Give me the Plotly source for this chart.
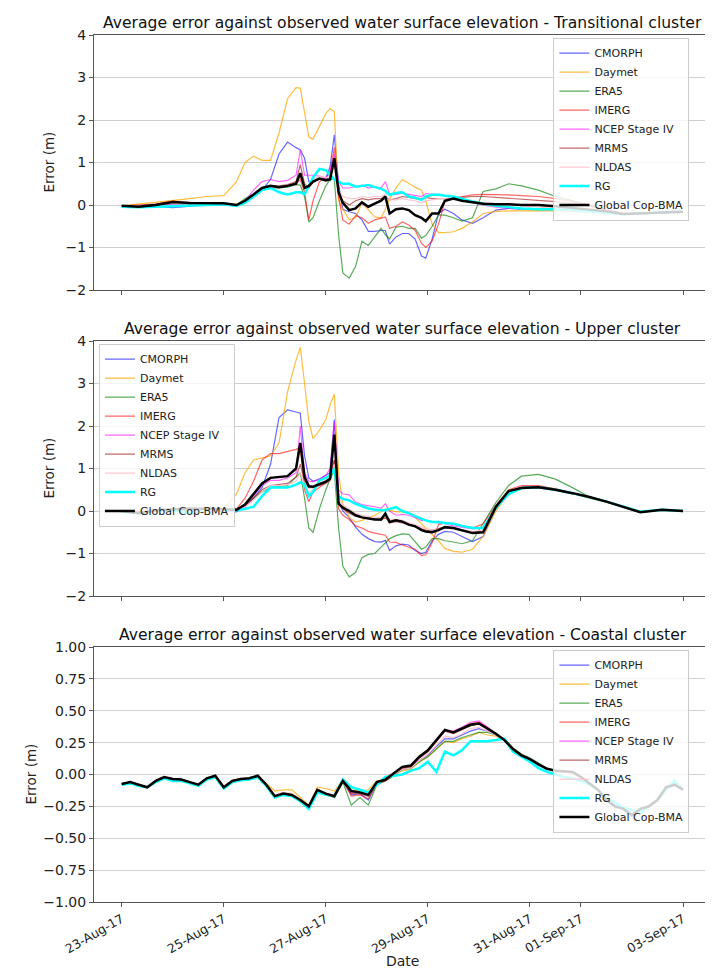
import pandas as pd
import plotly.graph_objects as go
from plotly.subplots import make_subplots

START = pd.Timestamp("2017-08-23 00:00")

# sample times (hours after 23-Aug-17 00:00)
hours_tu = [0, 8, 16, 24, 32, 40, 48, 54, 58, 62,
            66, 70, 74, 78, 82, 84, 86, 88, 90, 93,
            96, 98, 100, 102, 104, 107, 110, 113, 116, 119,
            122, 124, 126, 129, 132, 135, 138, 141, 143, 146,
            149, 152, 156, 160, 165, 170, 176, 182, 188, 196,
            204, 212, 220, 228, 236, 244, 254, 264]
hours_coastal = list(range(0, 265, 4))

names = ["CMORPH", "Daymet", "ERA5", "IMERG", "NCEP Stage IV", "MRMS", "NLDAS", "RG", "Global Cop-BMA"]

# ---- Transitional cluster ----
trans_cmorph = [-0.02, -0.03, -0.03, -0.06, -0.03, 0.0, 0.0, -0.02, 0.05, 0.25,
                0.35, 0.6, 1.2, 1.48, 1.35, 1.3, 1.1, 0.55, 0.55, 0.62,
                0.63, 0.9, 1.65, 0.5, -0.1, -0.16, -0.2, -0.35, -0.62, -0.62,
                -0.6, -0.6, -0.92, -0.75, -0.67, -0.67, -0.8, -1.2, -1.25, -0.8,
                -0.2, -0.1, -0.2, -0.35, -0.43, -0.3, -0.12, -0.08, -0.1, -0.1,
                -0.12, -0.14, -0.15, -0.18, -0.22, -0.2, -0.17, -0.16]
trans_daymet = [-0.02, 0.02, 0.07, 0.1, 0.15, 0.2, 0.22, 0.55, 1.0, 1.15,
                1.05, 1.05, 1.7, 2.5, 2.76, 2.75, 2.2, 1.6, 1.55, 1.85,
                2.15, 2.27, 2.2, 0.1, -0.1, -0.35, -0.3, 0.05, -0.12, -0.28,
                -0.3, -0.1, 0.15, 0.4, 0.6, 0.5, 0.42, 0.35, 0.1, -0.45,
                -0.65, -0.65, -0.63, -0.55, -0.4, -0.2, -0.15, -0.14, -0.13, -0.13,
                -0.14, -0.15, -0.16, -0.18, -0.22, -0.2, -0.17, -0.16]
trans_era5 = [-0.02, -0.02, 0.0, 0.03, 0.03, 0.02, 0.02, 0.0, 0.15, 0.25,
              0.35, 0.4, 0.4, 0.42, 0.48, 0.47, 0.2, -0.4, -0.3, 0.1,
              0.45, 0.6, 0.62, -0.7, -1.6, -1.72, -1.45, -0.85, -0.95, -0.75,
              -0.55, -0.7, -0.8, -0.52, -0.5, -0.55, -0.55, -0.78, -0.72, -0.5,
              -0.24, -0.24, -0.3, -0.38, -0.3, 0.32, 0.38, 0.5, 0.45, 0.35,
              0.2, 0.1, 0.0, -0.12, -0.2, -0.2, -0.17, -0.16]
trans_imerg = [-0.02, 0.0, 0.02, 0.1, 0.05, 0.03, 0.03, 0.0, 0.1, 0.25,
               0.35, 0.42, 0.42, 0.45, 0.5, 0.6, 0.3, -0.35, 0.1, 0.55,
               0.65, 0.75, 1.35, 0.2, -0.35, -0.45, -0.25, -0.3, -0.43, -0.35,
               -0.3, -0.28, -0.55, -0.5, -0.4, -0.47, -0.6, -0.9, -1.0, -0.85,
               -0.45, 0.08, 0.16, 0.2, 0.24, 0.25, 0.25, 0.24, 0.22, 0.2,
               0.15, 0.08, 0.0, -0.12, -0.2, -0.2, -0.17, -0.16]
trans_ncep = [-0.02, -0.02, 0.0, 0.02, 0.02, 0.02, 0.02, 0.0, 0.1, 0.35,
              0.55, 0.6, 0.55, 0.58, 0.7, 1.3, 0.7, 0.7, 0.7, 0.68,
              0.63, 0.8, 1.2, 0.55, 0.4, 0.4, 0.43, 0.47, 0.4, 0.43,
              0.4, 0.55, 0.25, 0.25, 0.28, 0.25, 0.22, 0.2, 0.27, 0.25,
              0.25, 0.22, 0.2, 0.15, 0.06, 0.0, -0.05, -0.08, -0.1, -0.1,
              -0.1, -0.12, -0.15, -0.18, -0.22, -0.2, -0.17, -0.16]
trans_mrms = [-0.02, -0.02, 0.02, 0.08, 0.04, 0.03, 0.03, 0.0, 0.1, 0.25,
              0.38, 0.45, 0.45, 0.48, 0.55, 0.95, 0.5, 0.4, 0.55, 0.62,
              0.6, 0.65, 1.0, 0.3, 0.1, 0.0, 0.1, 0.15, 0.12, 0.15,
              0.15, 0.2, 0.12, 0.15, 0.2, 0.18, 0.15, 0.15, 0.18, 0.15,
              0.15, 0.15, 0.15, 0.18, 0.2, 0.2, 0.18, 0.17, 0.15, 0.12,
              0.08, 0.03, -0.02, -0.12, -0.2, -0.2, -0.17, -0.16]
trans_nldas = [-0.02, -0.02, 0.0, 0.05, 0.03, 0.02, 0.02, 0.0, 0.08, 0.22,
               0.35, 0.42, 0.42, 0.45, 0.5, 0.7, 0.4, 0.45, 0.6, 0.68,
               0.65, 0.65, 0.9, 0.35, 0.2, 0.15, 0.15, 0.2, 0.18, 0.2,
               0.2, 0.25, 0.12, 0.12, 0.15, 0.12, 0.1, 0.05, 0.1, 0.12,
               0.15, 0.15, 0.12, 0.1, 0.08, 0.05, 0.02, 0.0, -0.02, -0.05,
               -0.07, -0.1, -0.12, -0.16, -0.21, -0.2, -0.17, -0.16]
trans_rg = [-0.04, -0.05, -0.04, -0.03, -0.02, 0.0, 0.02, -0.02, 0.05, 0.2,
            0.35, 0.4, 0.3, 0.25, 0.3, 0.3, 0.25, 0.45, 0.65, 0.85,
            0.82, 0.7, 0.6, 0.55, 0.5, 0.5, 0.43, 0.45, 0.47, 0.42,
            0.38, 0.33, 0.24, 0.28, 0.3, 0.2, 0.17, 0.12, 0.2, 0.24,
            0.24, 0.22, 0.2, 0.15, 0.08, 0.03, -0.02, -0.05, -0.08, -0.1,
            -0.1, -0.12, -0.15, -0.18, -0.22, -0.2, -0.17, -0.16]
trans_bma = [-0.02, -0.04, 0.0, 0.07, 0.05, 0.04, 0.04, 0.0, 0.1, 0.25,
             0.4, 0.45, 0.42, 0.45, 0.5, 0.75, 0.4, 0.45, 0.55, 0.62,
             0.58, 0.6, 1.1, 0.3, 0.05, -0.12, -0.08, 0.06, -0.04, 0.03,
             0.1, 0.2, -0.2, -0.1, -0.08, -0.12, -0.24, -0.3, -0.38, -0.2,
             -0.2, 0.1, 0.15, 0.1, 0.06, 0.03, 0.02, 0.02, 0.0, 0.0,
             -0.03, -0.07, -0.1, -0.15, -0.21, -0.2, -0.17, -0.16]

# ---- Upper cluster ----
upper_cmorph = [0.0, -0.03, 0.02, 0.02, 0.0, 0.02, 0.0, -0.02, 0.1, 0.3,
                0.55, 1.1, 2.2, 2.38, 2.33, 2.3, 1.3, 0.78, 0.7, 0.75,
                0.84, 0.9, 2.15, 0.25, 0.0, -0.15, -0.38, -0.55, -0.65, -0.72,
                -0.73, -0.69, -0.93, -0.82, -0.78, -0.8, -0.93, -1.0, -0.97, -0.7,
                -0.55, -0.48, -0.5, -0.6, -0.72, -0.6, 0.05, 0.42, 0.55, 0.57,
                0.5, 0.42, 0.32, 0.21, 0.1, -0.03, 0.03, 0.0]
upper_daymet = [0.0, -0.03, 0.03, 0.05, 0.05, 0.05, 0.05, 0.4, 0.9, 1.2,
                1.25, 1.3, 1.6, 2.8, 3.55, 3.85, 3.0, 2.1, 1.7, 1.9,
                2.15, 2.5, 2.75, 0.9, 0.15, -0.15, -0.26, -0.22, -0.15, -0.1,
                -0.02, 0.05, 0.02, -0.02, -0.02, -0.05, -0.15, -0.3, -0.38, -0.55,
                -0.7, -0.88, -0.95, -0.97, -0.9, -0.6, 0.0, 0.4, 0.53, 0.57,
                0.52, 0.42, 0.3, 0.2, 0.1, -0.03, 0.03, 0.0]
upper_era5 = [0.0, -0.03, 0.02, 0.03, 0.02, 0.03, 0.02, 0.02, 0.15, 0.3,
              0.45, 0.55, 0.58, 0.6, 0.8, 0.9, 0.3, -0.4, -0.5, 0.05,
              0.5, 0.75, 0.95, -0.4, -1.3, -1.55, -1.45, -1.1, -1.02, -1.0,
              -0.85, -0.75, -0.65, -0.58, -0.54, -0.55, -0.73, -0.9, -0.85, -0.65,
              -0.65, -0.7, -0.73, -0.77, -0.7, -0.3, 0.2, 0.6, 0.82, 0.86,
              0.75, 0.55, 0.33, 0.22, 0.1, -0.02, 0.03, 0.0]
upper_imerg = [0.0, -0.02, 0.03, 0.05, 0.05, 0.05, 0.03, 0.05, 0.3, 0.7,
               1.2, 1.35, 1.35, 1.4, 1.45, 1.5, 0.5, 0.22, 0.45, 0.55,
               0.67, 0.8, 1.2, 0.06, -0.1, -0.2, -0.35, -0.4, -0.48, -0.52,
               -0.55, -0.57, -0.73, -0.74, -0.8, -0.85, -0.9, -1.05, -1.03, -0.75,
               -0.32, -0.28, -0.3, -0.34, -0.4, -0.3, 0.13, 0.5, 0.6, 0.6,
               0.52, 0.42, 0.33, 0.22, 0.1, -0.03, 0.03, 0.0]
upper_ncep = [0.0, -0.03, 0.02, 0.04, 0.05, 0.05, 0.03, 0.03, 0.1, 0.35,
              0.6, 0.72, 0.72, 0.78, 0.9, 2.0, 0.9, 0.7, 0.69, 0.75,
              0.84, 1.0, 2.1, 0.5, 0.4, 0.38, 0.21, 0.15, 0.13, 0.1,
              0.06, 0.17, 0.0, -0.1, -0.08, -0.1, -0.15, -0.22, -0.22, -0.26,
              -0.28, -0.3, -0.35, -0.38, -0.42, -0.38, 0.08, 0.45, 0.55, 0.57,
              0.5, 0.42, 0.33, 0.22, 0.1, -0.03, 0.03, 0.0]
upper_mrms = [0.0, -0.04, 0.02, 0.04, 0.06, 0.05, 0.03, 0.03, 0.12, 0.3,
              0.5, 0.6, 0.62, 0.65, 0.8, 1.1, 0.7, 0.55, 0.55, 0.6,
              0.65, 0.72, 1.2, 0.2, 0.05, -0.05, -0.12, -0.15, -0.18, -0.2,
              -0.22, -0.15, -0.28, -0.25, -0.28, -0.32, -0.35, -0.42, -0.45, -0.45,
              -0.42, -0.38, -0.4, -0.45, -0.5, -0.5, 0.08, 0.45, 0.56, 0.58,
              0.51, 0.42, 0.33, 0.22, 0.1, -0.03, 0.03, 0.0]
upper_nldas = [0.0, -0.04, 0.02, 0.03, 0.03, 0.04, 0.03, 0.03, 0.1, 0.25,
               0.45, 0.6, 0.6, 0.62, 0.7, 0.9, 0.6, 0.45, 0.5, 0.65,
               0.72, 0.8, 1.1, 0.3, 0.15, 0.05, -0.05, -0.1, -0.12, -0.15,
               -0.15, -0.1, -0.2, -0.2, -0.22, -0.28, -0.32, -0.38, -0.42, -0.45,
               -0.42, -0.4, -0.42, -0.45, -0.48, -0.45, 0.08, 0.42, 0.54, 0.56,
               0.5, 0.42, 0.33, 0.22, 0.1, -0.03, 0.03, 0.0]
upper_rg = [-0.02, -0.06, 0.0, 0.02, -0.06, 0.03, 0.02, 0.02, 0.05, 0.1,
            0.35, 0.55, 0.55, 0.55, 0.62, 0.68, 0.62, 0.35, 0.45, 0.72,
            0.78, 0.84, 1.0, 0.35, 0.28, 0.25, 0.17, 0.12, 0.06, 0.03,
            0.02, 0.02, 0.05, 0.09, 0.0, -0.05, -0.12, -0.18, -0.22, -0.26,
            -0.26, -0.28, -0.3, -0.35, -0.4, -0.4, 0.08, 0.4, 0.54, 0.56,
            0.5, 0.42, 0.32, 0.22, 0.1, -0.02, 0.03, 0.0]
upper_bma = [0.0, -0.05, 0.02, 0.04, 0.06, 0.05, 0.03, 0.03, 0.15, 0.4,
             0.65, 0.78, 0.8, 0.82, 1.0, 1.6, 0.8, 0.58, 0.57, 0.63,
             0.69, 0.76, 1.8, 0.17, 0.08, 0.0, -0.1, -0.15, -0.18, -0.2,
             -0.2, -0.06, -0.26, -0.22, -0.25, -0.32, -0.36, -0.45, -0.48, -0.5,
             -0.45, -0.38, -0.4, -0.45, -0.52, -0.5, 0.1, 0.47, 0.54, 0.56,
             0.5, 0.42, 0.33, 0.22, 0.1, -0.03, 0.03, 0.0]

# ---- Coastal cluster ----
coast_cmorph = [-0.074, -0.06, -0.08, -0.1, -0.05, -0.02, -0.035, -0.04, -0.06, -0.08,
                -0.03, -0.01, -0.1, -0.05, -0.035, -0.03, -0.01, -0.08, -0.17, -0.15,
                -0.16, -0.2, -0.26, -0.13, -0.16, -0.17, -0.05, -0.16, -0.15, -0.2,
                -0.07, -0.05, 0.0, 0.04, 0.05, 0.11, 0.15, 0.22, 0.28, 0.28,
                0.31, 0.34, 0.36, 0.34, 0.31, 0.27, 0.2, 0.15, 0.12, 0.08,
                0.045, 0.03, 0.025, 0.02, -0.02, -0.07, -0.12, -0.2, -0.25, -0.27,
                -0.32, -0.27, -0.25, -0.2, -0.1, -0.08, -0.12]
coast_daymet = [-0.07, -0.06, -0.08, -0.1, -0.05, -0.02, -0.035, -0.04, -0.06, -0.08,
                -0.03, -0.01, -0.1, -0.05, -0.035, -0.03, -0.01, -0.07, -0.13, -0.12,
                -0.12, -0.18, -0.24, -0.1, -0.11, -0.13, -0.04, -0.12, -0.13, -0.12,
                -0.05, -0.04, 0.0, 0.03, 0.04, 0.1, 0.14, 0.2, 0.26, 0.25,
                0.28, 0.3, 0.33, 0.31, 0.3, 0.27, 0.2, 0.15, 0.12, 0.08,
                0.045, 0.03, 0.02, 0.01, -0.03, -0.08, -0.13, -0.2, -0.25, -0.27,
                -0.31, -0.27, -0.24, -0.19, -0.1, -0.08, -0.12]
coast_era5 = [-0.074, -0.06, -0.08, -0.1, -0.05, -0.02, -0.035, -0.04, -0.06, -0.08,
              -0.03, -0.01, -0.1, -0.05, -0.035, -0.03, -0.01, -0.08, -0.17, -0.15,
              -0.16, -0.2, -0.26, -0.13, -0.16, -0.18, -0.06, -0.24, -0.18, -0.24,
              -0.08, -0.05, -0.01, 0.04, 0.05, 0.1, 0.14, 0.2, 0.26, 0.26,
              0.29, 0.31, 0.33, 0.33, 0.31, 0.28, 0.21, 0.16, 0.13, 0.09,
              0.05, 0.03, 0.025, 0.02, -0.02, -0.07, -0.12, -0.2, -0.25, -0.27,
              -0.32, -0.27, -0.25, -0.2, -0.1, -0.08, -0.12]
coast_imerg = [-0.074, -0.06, -0.08, -0.1, -0.05, -0.02, -0.035, -0.04, -0.06, -0.08,
               -0.03, -0.01, -0.1, -0.05, -0.035, -0.03, -0.01, -0.08, -0.17, -0.15,
               -0.16, -0.2, -0.25, -0.12, -0.15, -0.17, -0.05, -0.17, -0.16, -0.19,
               -0.07, -0.05, 0.0, 0.05, 0.06, 0.13, 0.18, 0.26, 0.34, 0.33,
               0.36, 0.4, 0.41, 0.37, 0.32, 0.27, 0.2, 0.15, 0.12, 0.08,
               0.045, 0.03, 0.025, 0.02, -0.02, -0.07, -0.12, -0.2, -0.25, -0.27,
               -0.32, -0.27, -0.25, -0.2, -0.1, -0.08, -0.12]
coast_ncep = [-0.074, -0.06, -0.08, -0.1, -0.05, -0.02, -0.035, -0.04, -0.06, -0.08,
              -0.03, -0.01, -0.1, -0.05, -0.035, -0.03, -0.01, -0.08, -0.17, -0.15,
              -0.16, -0.2, -0.25, -0.12, -0.15, -0.16, -0.05, -0.14, -0.14, -0.16,
              -0.06, -0.04, 0.01, 0.06, 0.07, 0.14, 0.19, 0.27, 0.35, 0.34,
              0.37, 0.41, 0.42, 0.37, 0.32, 0.27, 0.2, 0.15, 0.12, 0.08,
              0.045, 0.03, 0.025, 0.02, -0.02, -0.07, -0.12, -0.2, -0.25, -0.27,
              -0.32, -0.27, -0.25, -0.2, -0.1, -0.08, -0.12]
coast_mrms = [-0.074, -0.06, -0.08, -0.1, -0.05, -0.02, -0.035, -0.04, -0.06, -0.08,
              -0.03, -0.01, -0.1, -0.05, -0.035, -0.03, -0.01, -0.08, -0.17, -0.15,
              -0.16, -0.2, -0.25, -0.13, -0.16, -0.17, -0.05, -0.15, -0.15, -0.17,
              -0.06, -0.04, 0.01, 0.05, 0.06, 0.13, 0.18, 0.26, 0.34, 0.32,
              0.35, 0.38, 0.4, 0.36, 0.32, 0.27, 0.2, 0.15, 0.12, 0.08,
              0.045, 0.03, 0.025, 0.02, -0.02, -0.07, -0.12, -0.2, -0.25, -0.27,
              -0.32, -0.27, -0.25, -0.2, -0.1, -0.08, -0.12]
coast_nldas = [-0.074, -0.06, -0.08, -0.1, -0.05, -0.02, -0.035, -0.04, -0.06, -0.08,
               -0.03, -0.01, -0.1, -0.05, -0.035, -0.03, -0.01, -0.08, -0.16, -0.14,
               -0.15, -0.19, -0.25, -0.12, -0.15, -0.16, -0.05, -0.13, -0.14, -0.15,
               -0.06, -0.04, 0.0, 0.04, 0.05, 0.11, 0.16, 0.23, 0.3, 0.29,
               0.32, 0.36, 0.37, 0.34, 0.31, 0.27, 0.2, 0.15, 0.12, 0.08,
               0.045, 0.03, 0.02, 0.01, -0.03, -0.07, -0.12, -0.19, -0.24, -0.26,
               -0.3, -0.27, -0.24, -0.19, -0.1, -0.07, -0.11]
coast_rg = [-0.08, -0.07, -0.09, -0.1, -0.06, -0.03, -0.05, -0.05, -0.07, -0.09,
            -0.04, -0.02, -0.11, -0.06, -0.045, -0.04, -0.02, -0.09, -0.18, -0.16,
            -0.17, -0.21, -0.27, -0.14, -0.16, -0.17, -0.04, -0.1, -0.12, -0.14,
            -0.08, -0.02, -0.01, 0.0, 0.03, 0.05, 0.1, 0.02, 0.18, 0.15,
            0.19, 0.26, 0.26, 0.26, 0.27, 0.28, 0.18, 0.14, 0.1, 0.05,
            0.02, 0.0, -0.02, -0.03, -0.05, -0.08, -0.12, -0.18, -0.22, -0.26,
            -0.28, -0.3, -0.25, -0.2, -0.12, -0.05, -0.12]
coast_bma = [-0.074, -0.06, -0.08, -0.1, -0.05, -0.02, -0.035, -0.04, -0.06, -0.08,
             -0.03, -0.01, -0.1, -0.05, -0.035, -0.03, -0.01, -0.08, -0.17, -0.15,
             -0.16, -0.2, -0.25, -0.12, -0.15, -0.17, -0.05, -0.13, -0.14, -0.16,
             -0.06, -0.04, 0.01, 0.06, 0.07, 0.14, 0.19, 0.27, 0.35, 0.33,
             0.36, 0.39, 0.4, 0.36, 0.32, 0.27, 0.2, 0.15, 0.12, 0.08,
             0.045, 0.03, 0.025, 0.02, -0.02, -0.07, -0.12, -0.2, -0.25, -0.27,
             -0.32, -0.27, -0.25, -0.2, -0.1, -0.08, -0.12]

tick_dates = ["2017-08-23", "2017-08-25", "2017-08-27", "2017-08-29",
              "2017-08-31", "2017-09-01", "2017-09-03"]

# line style per product (colour, width)
STYLES = [
    ("rgba(0,0,255,0.6)", 1.2),
    ("rgba(255,165,0,0.75)", 1.2),
    ("rgba(0,128,0,0.65)", 1.2),
    ("rgba(255,0,0,0.6)", 1.2),
    ("rgba(255,0,255,0.6)", 1.2),
    ("rgba(165,42,42,0.7)", 1.2),
    ("rgba(255,192,203,0.9)", 1.2),
    ("#00ffff", 2.5),
    ("#000000", 2.5),
]

panels = [
    ("Transitional", hours_tu,
     [trans_cmorph, trans_daymet, trans_era5, trans_imerg, trans_ncep,
      trans_mrms, trans_nldas, trans_rg, trans_bma]),
    ("Upper", hours_tu,
     [upper_cmorph, upper_daymet, upper_era5, upper_imerg, upper_ncep,
      upper_mrms, upper_nldas, upper_rg, upper_bma]),
    ("Coastal", hours_coastal,
     [coast_cmorph, coast_daymet, coast_era5, coast_imerg, coast_ncep,
      coast_mrms, coast_nldas, coast_rg, coast_bma]),
]

FONT = "DejaVu Sans"
W, H = 713, 971
ML, MR, MT, MB = 86, 10, 27, 77
plot_w = W - ML - MR
plot_h = H - MT - MB
panel_h = 255
gap = 51

fig = make_subplots(rows=3, cols=1, shared_xaxes=True)

legend_ids = ["legend", "legend2", "legend3"]
for row, (label, hrs, series) in enumerate(panels, start=1):
    times = [START + pd.Timedelta(hours=h) for h in hrs]
    for name, vals, (color, width) in zip(names, series, STYLES):
        fig.add_trace(
            go.Scatter(
                x=times, y=vals, mode="lines", name=name,
                line={"color": color, "width": width},
                legend=legend_ids[row - 1],
            ),
            row=row, col=1,
        )

# y domains (pixel based)
domains = []
for i in range(3):
    top = MT + i * (panel_h + gap)
    bottom = top + panel_h
    domains.append([1 - (bottom - MT) / plot_h, 1 - (top - MT) / plot_h])

titles = ["Average error against observed water surface elevation - Transitional cluster",
          "Average error against observed water surface elevation - Upper cluster",
          "Average error against observed water surface elevation - Coastal cluster"]
ylabel_x = [40, 40, 22]  # pixel centre of the "Error (m)" label

axis_common = {
    "showline": True, "linecolor": "#555555", "linewidth": 1, "mirror": True,
    "ticks": "outside", "ticklen": 4, "tickcolor": "#555555",
    "tickfont": {"family": FONT, "size": 14, "color": "#222222"},
}

for i in range(3):
    yk = "yaxis" if i == 0 else f"yaxis{i + 1}"
    xk = "xaxis" if i == 0 else f"xaxis{i + 1}"
    yopts = dict(axis_common)
    yopts.update({
        "domain": domains[i],
        "showgrid": True, "gridcolor": "#d0d0d0", "gridwidth": 1,
        "zeroline": False,
    })
    if i < 2:
        yopts.update({"range": [-2, 4], "tickvals": [-2, -1, 0, 1, 2, 3, 4]})
    else:
        yopts.update({"range": [-1, 1], "tickvals": [-1, -0.75, -0.5, -0.25, 0, 0.25, 0.5, 0.75, 1],
                      "tickformat": ".2f"})
    xopts = dict(axis_common)
    xopts.update({
        "type": "date",
        "range": ["2017-08-22 10:58", "2017-09-03 13:10"],
        "tickvals": tick_dates,
        "tickformat": "%d-%b-%y",
        "showgrid": False, "zeroline": False,
        "showticklabels": i == 2,
        "tickangle": -30,
        "tickfont": {"family": FONT, "size": 12.5, "color": "#222222"},
    })
    fig.update_layout({yk: yopts, xk: xopts})
    fig.add_annotation(
        text=titles[i], xref="paper", yref="paper", x=0.5, y=domains[i][1],
        xanchor="center", yanchor="bottom", yshift=1, showarrow=False,
        font={"family": FONT, "size": 15.6, "color": "#111111"},
    )
    fig.add_annotation(
        text="Error (m)", xref="paper", yref="paper",
        x=(ylabel_x[i] - ML) / plot_w, y=(domains[i][0] + domains[i][1]) / 2,
        xanchor="center", yanchor="middle", textangle=-90, showarrow=False,
        font={"family": FONT, "size": 13.5, "color": "#222222"},
    )

# x-axis label under the bottom panel
fig.add_annotation(
    text="Date", xref="paper", yref="paper", x=0.5, y=(H - MB - 953) / plot_h,
    xanchor="center", yanchor="middle", showarrow=False,
    font={"family": FONT, "size": 14, "color": "#222222"},
)

legend_common = {
    "bgcolor": "rgba(255,255,255,0.8)", "bordercolor": "#cccccc", "borderwidth": 1,
    "font": {"family": FONT, "size": 11, "color": "#222222"},
    "tracegroupgap": 0, "itemwidth": 30,
}
fig.update_layout(
    width=W, height=H,
    margin={"l": ML, "r": MR, "t": MT, "b": MB, "pad": 0},
    plot_bgcolor="white", paper_bgcolor="white",
    font={"family": FONT},
    legend={**legend_common, "x": 0.965, "y": domains[0][1] - 0.003, "xanchor": "right", "yanchor": "top"},
    legend2={**legend_common, "x": 0.008, "y": domains[1][1] - 0.003, "xanchor": "left", "yanchor": "top"},
    legend3={**legend_common, "x": 0.965, "y": domains[2][1] - 0.003, "xanchor": "right", "yanchor": "top"},
)

fig.write_html("out.html")
